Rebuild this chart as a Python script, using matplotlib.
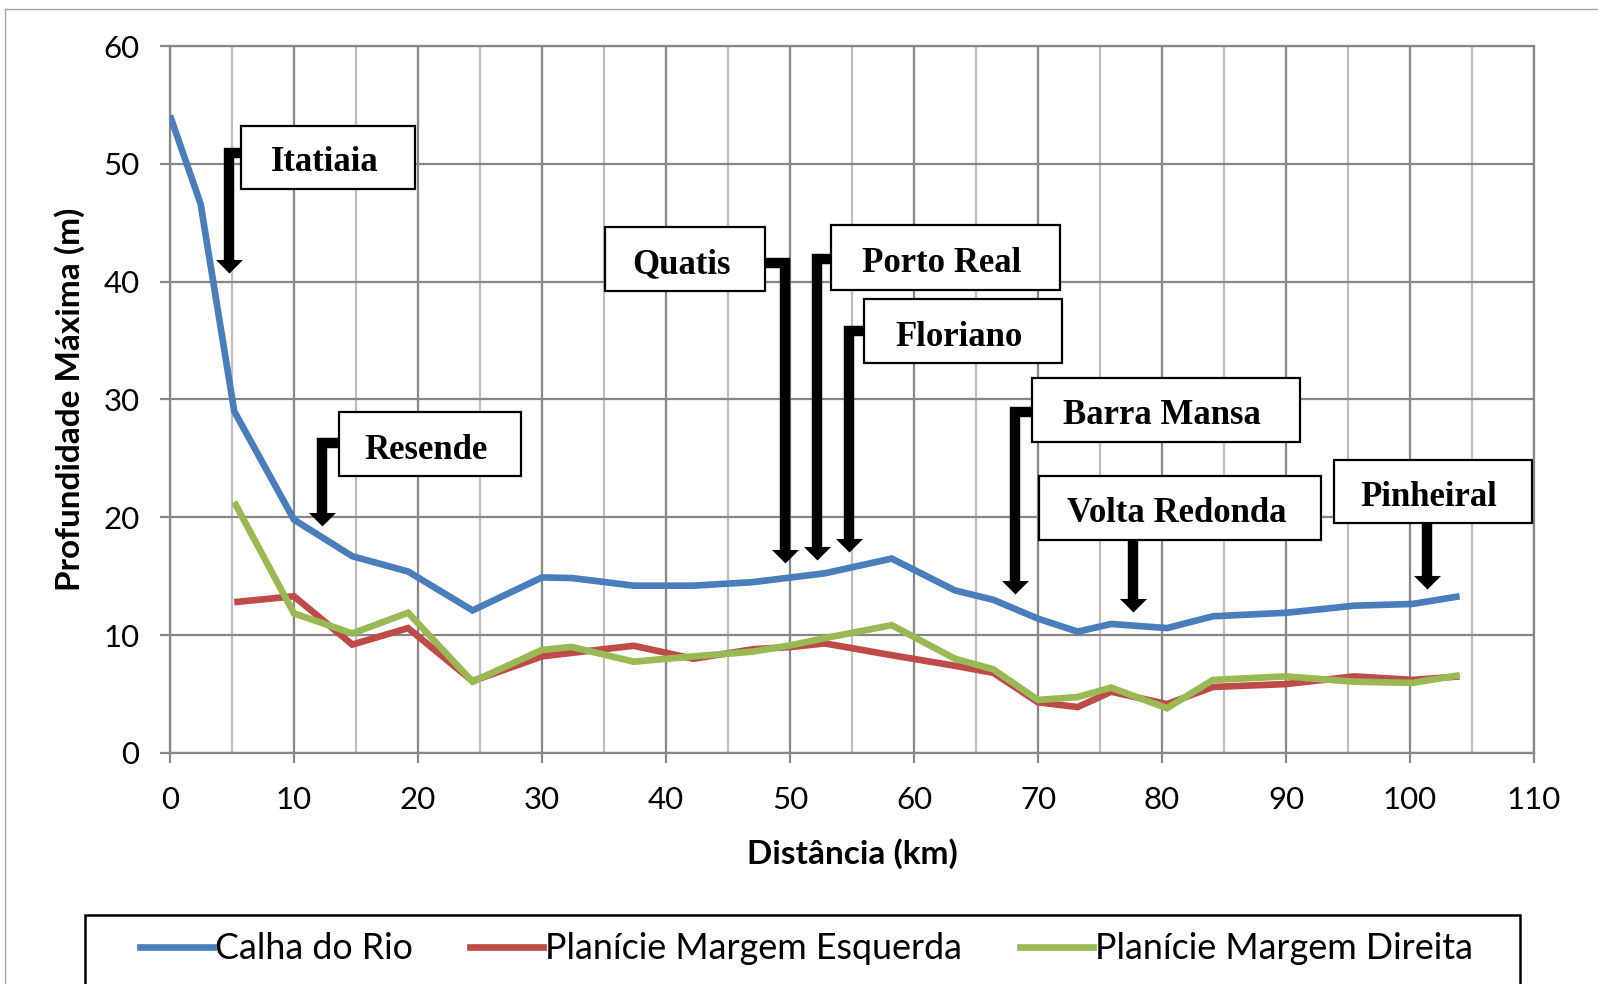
import numpy as np
import matplotlib
matplotlib.use("Agg")
import matplotlib.pyplot as plt
from matplotlib.patches import Rectangle
from matplotlib.lines import Line2D

plt.rcParams['font.family'] = ['Lato', 'DejaVu Sans']

# Distância ao longo do rio (km) e profundidade máxima (m)
dist = [0, 2.47, 5.18, 10.0, 14.7, 19.2, 24.4, 30.0, 32.4, 37.4, 42.2, 47.0, 50.1,
        52.8, 58.2, 63.3, 66.4, 70.0, 73.2, 75.9, 80.4, 84.1, 90.0, 95.5, 100.2, 104.0]
calha = [54.1, 46.6, 29.0, 19.8, 16.7, 15.4, 12.1, 14.9, 14.85, 14.2, 14.2, 14.5, 14.9,
         15.25, 16.5, 13.8, 13.0, 11.4, 10.3, 10.95, 10.6, 11.6, 11.9, 12.5, 12.65, 13.3]
esquerda = [np.nan, np.nan, 12.8, 13.3, 9.2, 10.6, 6.1, 8.2, 8.5, 9.1, 8.0, 8.8, 9.0,
            9.3, 8.3, 7.4, 6.8, 4.3, 3.9, 5.2, 4.15, 5.6, 5.85, 6.5, 6.2, 6.5]
direita = [np.nan, np.nan, 21.3, 11.85, 10.15, 11.9, 6.05, 8.75, 9.0, 7.75, 8.2, 8.6, 9.15,
           9.75, 10.85, 8.0, 7.1, 4.5, 4.75, 5.55, 3.8, 6.2, 6.5, 6.05, 5.95, 6.6]

series_names = ['Calha do Rio', 'Planície Margem Esquerda', 'Planície Margem Direita']
colors = ['#4A7EBB', '#BE4B48', '#98B954']

# cidades: nome, caixa (x0, x1, y0, y1), haste (x, y do cotovelo, ponta)
cities = ['Itatiaia', 'Resende', 'Quatis', 'Porto Real', 'Floriano',
          'Barra Mansa', 'Volta Redonda', 'Pinheiral']
boxes = [(5.76, 19.74, 47.9, 53.25), (13.6, 28.3, 23.5, 28.9), (35.1, 48.0, 39.2, 44.6),
         (53.3, 71.8, 39.3, 44.8), (55.98, 71.9, 33.1, 38.5), (69.55, 91.1, 26.4, 31.8),
         (70.1, 92.8, 18.07, 23.5), (93.9, 109.8, 19.5, 24.9)]
arrow_x = [4.77, 12.25, 49.6, 52.2, 54.75, 68.15, 77.7, 101.4]
arrow_y = [50.9, 26.3, 41.6, 41.9, 35.8, 28.9, 18.07, 19.5]
arrow_tip = [40.7, 19.3, 16.1, 16.4, 17.1, 13.5, 12.0, 13.9]

fig = plt.figure(figsize=(15.98, 9.84), dpi=100)
ax = fig.add_axes([0.10638, 0.23476, 0.85357, 0.71849])

for y, c, name in zip([calha, esquerda, direita], colors, series_names):
    ax.plot(dist, y, color=c, lw=4.8, label=name, zorder=3,
            solid_joinstyle='miter', solid_capstyle='butt')

ax.set_xlim(0, 110)
ax.set_ylim(0, 60)
ax.set_xticks(range(0, 111, 10))
ax.set_xticks(range(5, 110, 10), minor=True)
ax.set_yticks(range(0, 61, 10))
ax.grid(which='major', color='#868686', lw=1.6, zorder=0)
ax.grid(which='minor', axis='x', color='#BFBFBF', lw=1.6, zorder=0)
ax.set_axisbelow(True)
for s in ax.spines.values():
    s.set_color('#868686')
    s.set_linewidth(1.6)
ax.tick_params(which='major', direction='out', length=7, width=1.6, color='#868686',
               labelsize=22.5, pad=17)
ax.tick_params(axis='y', pad=15)
ax.tick_params(which='minor', length=0)

ax.set_xlabel('Distância (km)', fontsize=24, fontweight='bold')
ax.set_ylabel('Profundidade Máxima (m)', fontsize=24, fontweight='bold')
ax.xaxis.set_label_coords(0.5, -0.12)
ax.yaxis.set_label_coords(-0.0623, 0.5)

# setas dobradas e caixas das cidades
for name, (x0, x1, y0, y1), xa, ya, tip in zip(cities, boxes, arrow_x, arrow_y, arrow_tip):
    if ya >= y1 or ya <= y0 + 0.01:
        path_x, path_y = [xa, xa], [y0, tip + 1.0]
    else:
        edge = x0 if xa < x0 else x1
        path_x, path_y = [edge, xa, xa], [ya, ya, tip + 1.0]
    ax.plot(path_x, path_y, color='black', lw=7.5, solid_joinstyle='miter',
            solid_capstyle='butt', zorder=5, clip_on=False)
    ax.plot([xa], [tip], marker=[(-1, 1), (1, 1), (0, 0)], markersize=19.5,
            color='black', markeredgewidth=0, zorder=5, clip_on=False)
    ax.add_patch(Rectangle((x0, y0), x1 - x0, y1 - y0, facecolor='white',
                           edgecolor='black', lw=1.6, zorder=6, clip_on=False))
    ax.text((x0 + x1) / 2 - 0.3, (y0 + y1) / 2 - 0.5, name, ha='center', va='center',
            fontsize=25, fontweight='bold', family=['Liberation Serif', 'DejaVu Serif'],
            zorder=7)

# legenda em caixa na base
fig.add_artist(Rectangle((0.0532, -0.01), 0.898, 0.0801, transform=fig.transFigure,
                         facecolor='white', edgecolor='black', lw=1.8))
handles = [Line2D([], [], color=c, lw=4.8) for c in colors]
fig.legend(handles, series_names, loc='center', bbox_to_anchor=(0.5045, 0.0356),
           ncol=3, frameon=False, fontsize=25.8, handlelength=2.05, handletextpad=0.05,
           columnspacing=1.6)

# moldura externa do gráfico
fig.add_artist(Line2D([0.003, 0.003], [0, 0.991], transform=fig.transFigure,
                      color='#A6A6A6', lw=1))
fig.add_artist(Line2D([0.003, 1], [0.991, 0.991], transform=fig.transFigure,
                      color='#A6A6A6', lw=1))

fig.savefig('out.png', dpi=100)
